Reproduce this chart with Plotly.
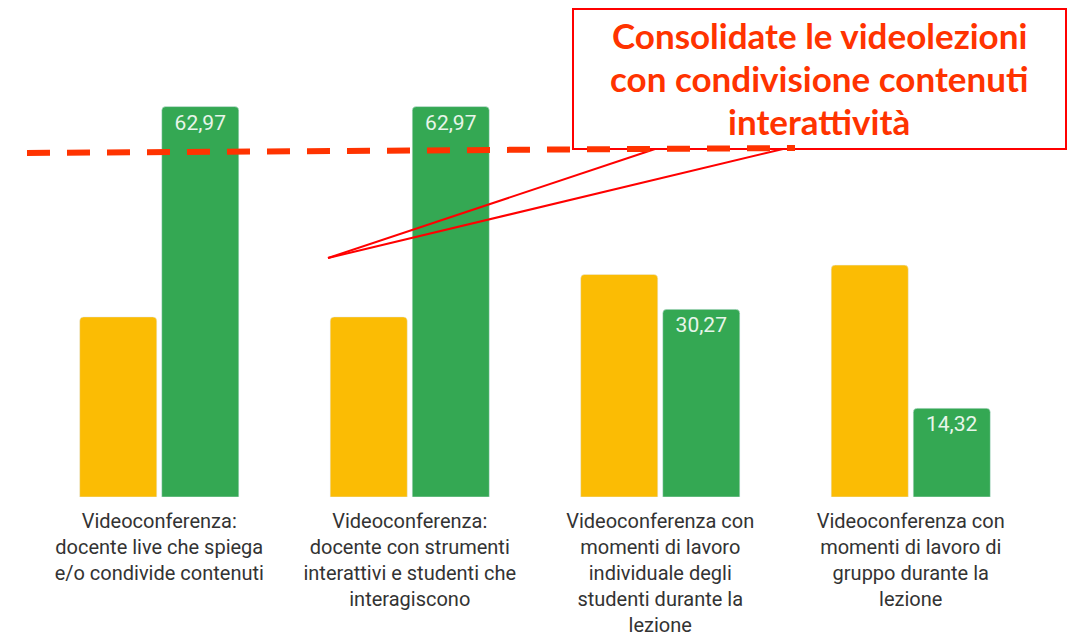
import plotly.graph_objects as go

categories = [
    "Videoconferenza:<br>docente live che spiega<br>e/o condivide contenuti",
    "Videoconferenza:<br>docente con strumenti<br>interattivi e studenti che<br>interagiscono",
    "Videoconferenza con<br>momenti di lavoro<br>individuale degli<br>studenti durante la<br>lezione",
    "Videoconferenza con<br>momenti di lavoro di<br>gruppo durante la<br>lezione",
]
serie_gialla = [29.05, 29.05, 35.9, 37.4]
serie_verde = [62.97, 62.97, 30.27, 14.32]
callout_lines = ["Consolidate le videolezioni", "con condivisione contenuti", "interattività"]

# the page puts the figure 8px in from the corner
OFF = 8
W, H = 1068, 633
ML, MR, MT, MB = 26, 40, 55, 144


def px(x):
    return (x - OFF - ML) / (W - ML - MR)


def py(y):
    return (H - MB - (y - OFF)) / (H - MT - MB)


fig = go.Figure()
fig.add_trace(go.Bar(x=categories, y=serie_gialla, name="Serie 1", marker_color="#FBBC04"))
fig.add_trace(go.Bar(
    x=categories, y=serie_verde, name="Serie 2", marker_color="#34A853",
    texttemplate="%{y:.2f}", textposition="inside", insidetextanchor="end",
    textfont=dict(family="Roboto", size=21, color="#E8F5EA"),
))

# riquadro
fig.add_shape(type="rect", xref="paper", yref="paper",
              x0=px(573), y0=py(9), x1=px(1066), y1=py(149),
              line=dict(color="#FF0000", width=2), fillcolor="white")
# linee del fumetto
for xe in (655, 783):
    fig.add_shape(type="line", xref="paper", yref="paper",
                  x0=px(328), y0=py(258), x1=px(xe), y1=py(149),
                  line=dict(color="#FF0000", width=2))
# linea tratteggiata rossa
fig.add_shape(type="line", xref="paper", yref="paper",
              x0=px(27), y0=py(153), x1=px(795), y1=py(148),
              line=dict(color="#FF3300", width=6, dash="23px,17px"))
for i, t in enumerate(callout_lines):
    fig.add_annotation(text="<b>" + t + "</b>", xref="paper", yref="paper",
                       x=px(819), y=py(35 + i * 43), showarrow=False,
                       xanchor="center", yanchor="middle",
                       font=dict(family="Lato", size=35, color="#FF3300"))

fig.update_layout(
    width=W, height=H,
    margin=dict(l=ML, r=MR, t=MT, b=MB),
    plot_bgcolor="white", paper_bgcolor="white",
    barmode="group", bargap=0.345, bargroupgap=0.06, barcornerradius=4,
    separators=",.",
    showlegend=False,
    font=dict(family="Roboto", color="#333333"),
    xaxis=dict(showline=False, showgrid=False, ticks="", tickangle=0,
               automargin=False, ticklabelstandoff=10,
               tickfont=dict(size=20, color="#333333")),
    yaxis=dict(range=[0, 70], visible=False, showgrid=False, automargin=False),
)

fig.write_html("out.html")
